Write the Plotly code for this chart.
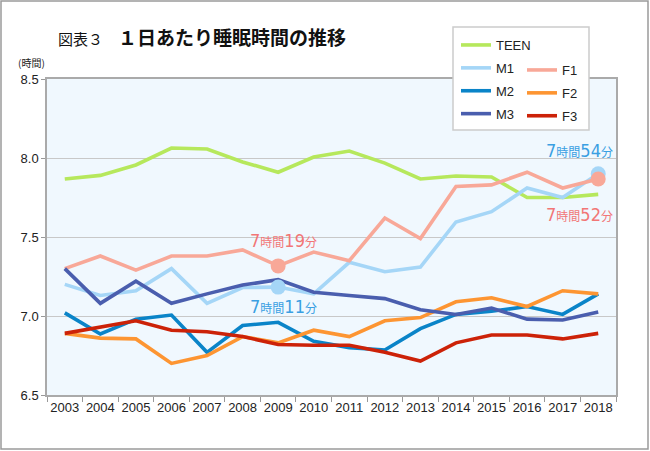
import plotly.graph_objects as go

years = [str(y) for y in range(2003, 2019)]

teen = [7.867, 7.89, 7.956, 8.063, 8.057, 7.975, 7.91, 8.006, 8.044, 7.968, 7.867, 7.886, 7.88, 7.75, 7.75, 7.77]
m1 = [7.20, 7.13, 7.16, 7.30, 7.08, 7.18, 7.183, 7.14, 7.34, 7.28, 7.31, 7.595, 7.66, 7.81, 7.75, 7.90]
m2 = [7.02, 6.886, 6.98, 7.006, 6.77, 6.94, 6.96, 6.84, 6.80, 6.785, 6.92, 7.01, 7.03, 7.06, 7.01, 7.14]
m3 = [7.30, 7.08, 7.22, 7.08, 7.14, 7.196, 7.23, 7.15, 7.13, 7.11, 7.04, 7.01, 7.05, 6.98, 6.975, 7.025]
f1 = [7.30, 7.38, 7.29, 7.38, 7.38, 7.418, 7.317, 7.405, 7.35, 7.62, 7.49, 7.82, 7.83, 7.91, 7.81, 7.867]
f2 = [6.89, 6.86, 6.855, 6.70, 6.75, 6.87, 6.83, 6.91, 6.87, 6.97, 6.99, 7.09, 7.115, 7.06, 7.16, 7.14]
f3 = [6.89, 6.93, 6.97, 6.91, 6.90, 6.87, 6.82, 6.815, 6.815, 6.77, 6.715, 6.83, 6.88, 6.88, 6.855, 6.89]

highlight_years = ["2009", "2018"]
m1_labels = ["11", "54"]
f1_labels = ["19", "52"]

y_ticks = [6.5, 7.0, 7.5, 8.0, 8.5]

colors = {
    "TEEN": "#b6e85c", "M1": "#a5d6f7", "M2": "#0a84c8", "M3": "#4a5eae",
    "F1": "#f8a898", "F2": "#fd9532", "F3": "#cc2208",
}

series = [("TEEN", teen, "legend"), ("M1", m1, "legend"), ("F1", f1, "legend2"),
          ("M2", m2, "legend"), ("F2", f2, "legend2"), ("M3", m3, "legend"), ("F3", f3, "legend2")]

fig = go.Figure()
for name, vals, lg in series:
    fig.add_trace(go.Scatter(x=years, y=vals, mode="lines", name=name,
                             line=dict(color=colors[name], width=3.6),
                             legend=lg, legendgroup=name))

# highlight markers
for name, vals in [("M1", m1), ("F1", f1)]:
    fig.add_trace(go.Scatter(
        x=highlight_years, y=[vals[years.index(y)] for y in highlight_years],
        mode="markers", marker=dict(color=colors[name], size=15),
        showlegend=False, hoverinfo="skip"))

def label(mins):
    return (f"<span style='font-size:18px'>7</span>"
            f"<span style='font-size:12px'>時間</span>"
            f"<span style='font-size:18px'>{mins}</span>"
            f"<span style='font-size:12px'>分</span>")

ann_font = "Liberation Sans Narrow, DejaVu Sans Condensed, Noto Sans CJK JP"
blue_txt = "#3a9fe2"
pink_txt = "#f27676"
annotations = []
for i, yr in enumerate(highlight_years):
    xi = years.index(yr)
    annotations.append(dict(x=xi, y=f1[xi], xref="x", yref="y",
                            text=label(f1_labels[i]), showarrow=False,
                            font=dict(color=pink_txt, family=ann_font),
                            yshift=25 if yr == "2009" else -35,
                            xshift=5 if yr == "2009" else -19))
    annotations.append(dict(x=xi, y=m1[xi], xref="x", yref="y",
                            text=label(m1_labels[i]), showarrow=False,
                            font=dict(color=blue_txt, family=ann_font),
                            yshift=-19 if yr == "2009" else 23,
                            xshift=5 if yr == "2009" else -19))

pw, ph = 569, 316
def px(x): return (x - 47) / pw
def py(y): return (395 - y) / ph

annotations.append(dict(x=px(16), y=py(63), xref="paper", yref="paper", text="(時間)",
                        showarrow=False, xanchor="left", yanchor="middle",
                        font=dict(size=10, color="#222", family="Noto Sans CJK JP")))

# outer frame and legend box
shapes = [
    dict(type="rect", xref="paper", yref="paper", x0=px(1), x1=px(648), y0=py(449), y1=py(1),
         line=dict(color="#9a9a9a", width=1.5), fillcolor="rgba(0,0,0,0)", layer="above"),
    dict(type="rect", xref="paper", yref="paper", x0=px(453), x1=px(589), y0=py(130), y1=py(27),
         line=dict(color="#cccccc", width=1.5), fillcolor="white", layer="above"),
]

fig.update_layout(
    width=650, height=451,
    margin=dict(l=47, r=34, t=79, b=56),
    paper_bgcolor="white", plot_bgcolor="#f0f8fe",
    font=dict(family="Liberation Sans, Arial, sans-serif", size=13, color="#222"),
    title=dict(text="<span style='font-size:15px'>図表３　</span><b>１日あたり睡眠時間の推移</b>",
               x=58 / 650, xanchor="left", y=1 - 38 / 451, yanchor="middle",
               font=dict(family="Noto Sans CJK JP", size=19, color="#111")),
    xaxis=dict(type="category", range=[-0.5, 15.5], tickson="boundaries", ticks="outside",
               ticklen=5, tickcolor="#999", showline=True, linecolor="#aaaaaa", linewidth=1.5,
               mirror=True, showgrid=False, tickfont=dict(size=13), tickangle=0),
    yaxis=dict(range=[6.5, 8.5], tickvals=y_ticks, tickformat=".1f", ticks="outside",
               ticklen=4, tickcolor="#999", showline=True, linecolor="#aaaaaa",
               linewidth=1.5, mirror=True, gridcolor="#c8c8c8", gridwidth=1,
               zeroline=False, tickfont=dict(size=13)),
    legend=dict(x=px(456), y=py(30), xanchor="left", yanchor="top", bgcolor="rgba(0,0,0,0)",
                tracegroupgap=3, font=dict(size=13), traceorder="grouped"),
    legend2=dict(x=px(522), y=py(55), xanchor="left", yanchor="top", bgcolor="rgba(0,0,0,0)",
                 tracegroupgap=3, font=dict(size=13), traceorder="grouped"),
    annotations=annotations, shapes=shapes, showlegend=True,
)

fig.write_html("out.html", config={"displayModeBar": False},
               post_script="document.body.style.margin='0';")
